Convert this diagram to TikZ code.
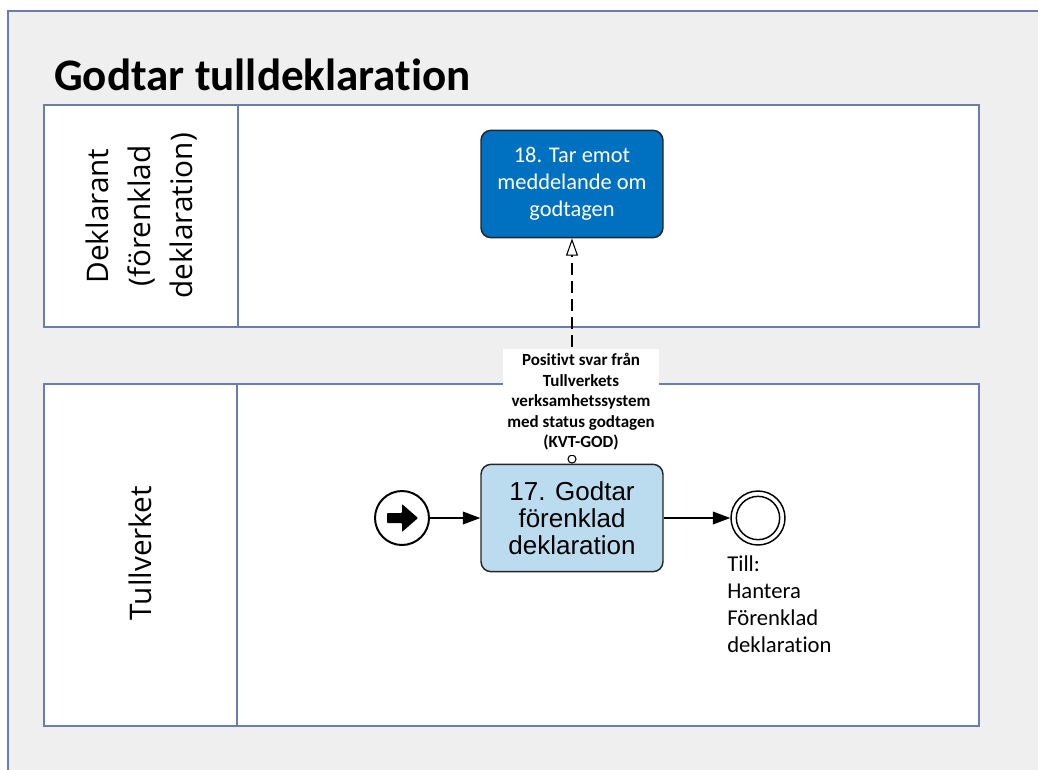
\documentclass[tikz,border=0pt]{standalone}
\usepackage{fontspec}
\setmainfont{Carlito}[Ligatures={NoCommon,NoDiscretionary,NoContextual}]
\newfontfamily\lanefont{Open Sans}
\newfontfamily\arialfont{Liberation Sans}
\usetikzlibrary{arrows.meta}
\definecolor{framecol}{HTML}{6A7DAE}
\definecolor{bggray}{HTML}{EFEFEF}
\definecolor{taskdark}{HTML}{0070C0}
\definecolor{tasklight}{HTML}{BBDBEE}
\begin{document}
\begin{tikzpicture}[x=0.75pt,y=-0.75pt,
    lane/.style={draw=framecol, line width=1.1pt, fill=white},
    task/.style={draw=black!85, line width=1.1pt, rounded corners=7.5pt, minimum width=136.5pt, minimum height=80.5pt, align=center},
    flow/.style={-{Triangle[length=13pt,width=9.5pt]}, line width=1pt},
    event/.style={circle, draw, minimum size=40.5pt, inner sep=0pt}]
        \useasboundingbox (0,0) rectangle (1038,769);
        \clip (0,0) rectangle (1038,769);
        \fill[white] (0,0) rectangle (1038,769);
        \draw[draw=framecol, fill=bggray, line width=1.1pt] (8,11) rectangle (1060,790);
        \node[anchor=base west, inner sep=0pt, font=\bfseries\fontsize{33.8}{40}\selectfont] (title) at (54,90) {Godtar tulldeklaration};
        % lanes
        \draw[lane] (44,105) rectangle (979,327);
        \draw[framecol, line width=1.1pt] (238,105) -- (238,327);
        \draw[lane] (44,384) rectangle (979,726);
        \draw[framecol, line width=1.1pt] (237,384) -- (237,726);
        \node[rotate=90, align=center, font=\lanefont\fontsize{22.3}{31.5}\selectfont] (lanedekl) at (142,216) {Deklarant\\(förenklad\\deklaration)};
        \node[rotate=90, font=\lanefont\fontsize{22.3}{31.5}\selectfont] (lanetull) at (140,553) {Tullverket};
        % tasks
        \node[task, fill=taskdark, text=white, font=\fontsize{16.8}{20.25}\selectfont] (t18) at (572,184) {18. Tar emot\\meddelande om\\godtagen};
        \node[task, fill=tasklight, font=\arialfont\fontsize{19.5}{20.25}\selectfont] (t17) at (572,518) {17. Godtar\\förenklad\\deklaration};
        % events
        \node[event, line width=1.5pt] (start) at (402,518) {};
        \fill[shift={(start.center)}, rounded corners=0.6pt] (-15,-5) -- (0,-5) -- (0,-14) -- (16,0) -- (0,14) -- (0,5) -- (-15,5) -- cycle;
        \node[event, line width=1.1pt] (end) at (758,518) {};
        \node[circle, draw, minimum size=32.5pt, inner sep=0pt, line width=1.1pt] (endin) at (end) {};
        \node[anchor=north west, align=left, inner sep=0pt, font=\fontsize{17}{20.25}\selectfont] (endlbl) at (727,555) {Till:\\Hantera\\Förenklad\\deklaration};
        % flows
        \draw[flow] (start) -- (t17);
        \draw[flow] (t17) -- (end);
        \node[circle, draw, fill=white, line width=0.8pt, minimum size=6pt, inner sep=0pt, anchor=south] (msgstart) at (t17.north) {};
        \draw[line width=0.8pt, dash pattern=on 9pt off 4.5pt, -{Triangle[open, length=13pt, width=9pt, fill=white]}] (msgstart) -- (t18.south);
        \node[fill=white, minimum width=114pt, minimum height=78pt, align=center, font=\bfseries\fontsize{12.75}{15.4}\selectfont] (msg) at (581,402) {Positivt svar från\\Tullverkets\\verksamhetssystem\\med status godtagen\\(KVT-GOD)};
    \end{tikzpicture}
\end{document}
